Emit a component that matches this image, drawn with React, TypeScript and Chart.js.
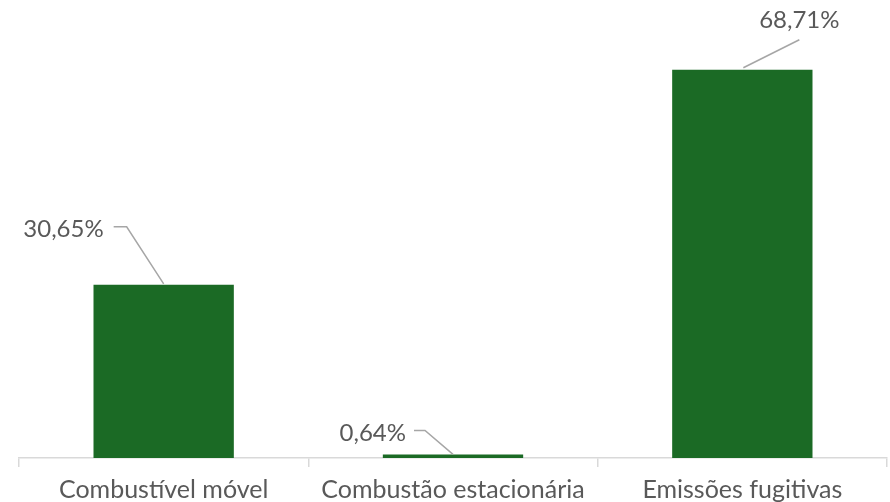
import React, { useEffect, useRef } from "react";
import { Chart, registerables } from "chart.js";

Chart.register(...registerables);

const categories = ["Combustível móvel", "Combustão estacionária", "Emissões fugitivas"];
const values = [30.65, 0.64, 68.71];
const valueLabels = ["30,65%", "0,64%", "68,71%"];

const FONT = 'Lato, "Open Sans", sans-serif';
const TEXT = "#595959";
const LEADER = "#a6a6a6";
const BAR = "#1b6a25";

// label placement relative to bar top-centre: text anchor + leader polyline
const labelPlacement = [
  { dx: -60, dy: -56, align: "right", line: [[-50, -58], [-37, -58], [0, -1]] },
  { dx: -47, dy: -21, align: "right", line: [[-39, -24], [-28, -24], [0, 0]] },
  { dx: 57, dy: -50, align: "center", line: [[57, -30], [1, -2]] },
];

const labelPlugin = {
  id: "leaderLabels",
  afterDatasetsDraw(chart: any) {
    const ctx = chart.ctx;
    const meta = chart.getDatasetMeta(0);
    ctx.save();
    meta.data.forEach((bar: any, i: number) => {
      const p = labelPlacement[i];
      const x = bar.x;
      const y = bar.y;
      ctx.strokeStyle = LEADER;
      ctx.lineWidth = 1.5;
      ctx.beginPath();
      p.line.forEach((pt: number[], j: number) => {
        if (j === 0) ctx.moveTo(x + pt[0], y + pt[1]);
        else ctx.lineTo(x + pt[0], y + pt[1]);
      });
      ctx.stroke();
      ctx.fillStyle = TEXT;
      ctx.font = `24px ${FONT}`;
      ctx.textAlign = p.align;
      ctx.textBaseline = "middle";
      ctx.fillText(valueLabels[i], x + p.dx, y + p.dy);
    });
    ctx.restore();
  },
};

export default function App() {
  const ref = useRef<HTMLCanvasElement>(null);
  useEffect(() => {
    document.body.style.margin = "0";
    const chart = new Chart(ref.current!, {
      type: "bar",
      data: {
        labels: categories,
        datasets: [
          {
            data: values,
            backgroundColor: BAR,
            categoryPercentage: 1,
            barPercentage: 0.485,
          },
        ],
      },
      options: {
        animation: false,
        responsive: false,
        layout: { padding: { top: 6, left: 19, right: 3, bottom: -11 } },
        plugins: { legend: { display: false }, tooltip: { enabled: false } },
        scales: {
          y: { display: false, min: 0, max: 80 },
          x: {
            border: { color: "#d9d9d9", width: 1.5 },
            grid: {
              offset: true,
              drawOnChartArea: false,
              tickLength: 9,
              color: "#d9d9d9",
              lineWidth: 1.5,
            },
            ticks: {
              color: TEXT,
              font: { family: FONT, size: 25 },
              padding: 8,
            },
          },
        },
      },
      plugins: [labelPlugin],
    });
    return () => chart.destroy();
  }, []);
  return (
    <div style={{ width: 890, height: 502 }}>
      <canvas ref={ref} width={890} height={502} />
    </div>
  );
}
